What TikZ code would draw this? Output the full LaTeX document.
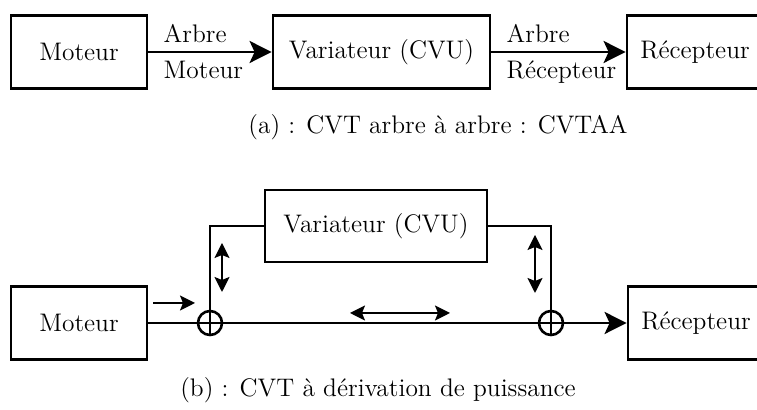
\documentclass[tikz,border=0pt]{standalone}
\usepackage{tikz}
\usetikzlibrary{arrows.meta, positioning, calc}
\tikzset{
    bigtip/.tip={Stealth[length=11pt, width=11pt, inset=2.5pt]},
    smalltip/.tip={Stealth[length=7.5pt, width=7.5pt, inset=1.5pt]},
    block/.style={rectangle, draw, line width=1.4pt, minimum height=36.5pt, inner sep=0pt},
    sum/.style={circle, draw, line width=1.3pt, minimum size=12pt, inner sep=0pt,
        path picture={\draw[line width=1.1pt] (path picture bounding box.north) -- (path picture bounding box.south)
            (path picture bounding box.west) -- (path picture bounding box.east);}},
    arrow/.style={-bigtip, line width=1.3pt},
    link/.style={line width=1.3pt},
    flow/.style={-smalltip, line width=0.8pt},
    flowboth/.style={smalltip-smalltip, line width=0.8pt},
    lbl/.style={inner sep=4pt, xshift=3pt},
}

\begin{document}
\begin{tikzpicture}[x=0.5pt, y=-0.5pt, font=\fontsize{12.7}{15}\selectfont]
    \useasboundingbox (0,0) rectangle (757,410);
    \clip (0,0) rectangle (757,410);

    % (a) arbre a arbre
    \node[block, minimum width=68pt] (motA) at (79,52) {Moteur};
    \node[block, minimum width=108.5pt] (varA) at (381.5,52) {Variateur (CVU)};
    \node[block, minimum width=68pt] (recA) at (695,52) {Récepteur};

    \draw[arrow] (motA) -- (varA)
        node[lbl, pos=0, anchor=south west] {Arbre}
        node[lbl, pos=0, anchor=north west] {Moteur};
    \draw[arrow] (varA) -- (recA)
        node[lbl, pos=0, anchor=south west] {Arbre}
        node[lbl, pos=0, anchor=north west] {Récepteur};

    \node (capA) at (438,127) {(a) : CVT arbre à arbre : CVTAA};

    % (b) derivation de puissance
    \node[block, minimum width=68pt] (motB) at (79,323) {Moteur};
    \node[block, minimum width=111pt, minimum height=36pt] (varB) at (376,226) {Variateur (CVU)};
    \node[block, minimum width=68pt] (recB) at (696,323) {Récepteur};
    \node[sum] (sumL) at (210,323) {};
    \node[sum] (sumR) at (551,323) {};

    \draw[link] (motB) -- (sumL) -- (sumR);
    \draw[arrow] (sumR) -- (recB);
    \draw[link] (varB.west) -| (sumL);
    \draw[link] (varB.east) -| (sumR);

    \coordinate (inA) at (153,303);
    \coordinate (inB) at (195,303);
    \coordinate (upL) at (222,243);
    \coordinate (dnL) at (222,292);
    \coordinate (upR) at (535,235);
    \coordinate (dnR) at (535,293);
    \coordinate (midL) at (350,313);
    \coordinate (midR) at (450,313);
    \draw[flow] (inA) -- (inB);
    \draw[flowboth] (upL) -- (dnL);
    \draw[flowboth] (upR) -- (dnR);
    \draw[flowboth] (midL) -- (midR);

    \node (capB) at (378,390) {(b) : CVT à dérivation de puissance};
\end{tikzpicture}
\end{document}
